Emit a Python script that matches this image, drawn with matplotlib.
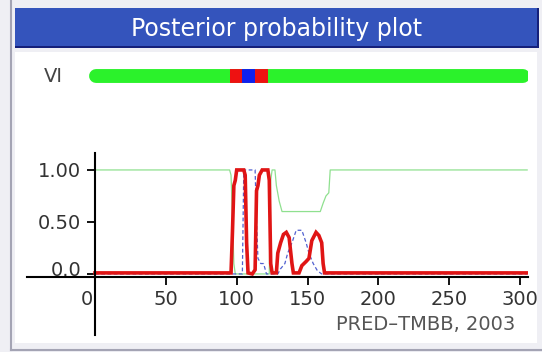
import numpy as np
import matplotlib.pyplot as plt
from matplotlib.patches import Rectangle
from matplotlib.lines import Line2D
import matplotlib.transforms as mtransforms

# posterior probabilities (position, probability)
red_x = [0, 96, 97, 98, 99, 100, 105, 106, 107, 108, 111, 113, 114, 115, 116, 118, 122, 123, 124, 125,
         128, 129, 131, 133, 135, 137, 139, 140, 144, 146, 149, 151, 153, 156, 158, 160, 161, 162, 305]
red_y = [0.01, 0.01, 0.4, 0.85, 0.9, 1.0, 1.0, 0.95, 0.3, 0.01, 0.0, 0.04, 0.8, 0.85, 0.95, 1.0, 1.0, 0.9, 0.1, 0.01,
         0.01, 0.2, 0.3, 0.38, 0.4, 0.35, 0.1, 0.01, 0.01, 0.08, 0.12, 0.15, 0.32, 0.4, 0.37, 0.3, 0.1, 0.01, 0.01]

green_x = [0, 95, 96, 97, 98, 99, 123, 124, 125, 127, 128, 130, 132, 159, 161, 163, 165, 166, 305]
green_y = [1.0, 1.0, 0.95, 0.55, 0.1, 0.0, 0.0, 0.9, 1.0, 1.0, 0.85, 0.7, 0.6, 0.6, 0.68, 0.75, 0.78, 1.0, 1.0]

blue_x = [0, 104, 105, 113, 114, 115, 117, 119, 121, 129, 131, 134, 136, 139, 142, 146, 149, 151, 154, 157, 160, 305]
blue_y = [0.0, 0.0, 1.0, 1.0, 0.5, 0.15, 0.1, 0.1, 0.0, 0.0, 0.05, 0.1, 0.2, 0.3, 0.42, 0.42, 0.3, 0.2, 0.1, 0.03, 0.0, 0.0]

# predicted topology segments (start, end, colour)
topo_start = [1, 95, 104, 113, 122]
topo_end = [95, 104, 113, 122, 302]
topo_color = ['#2bf22b', '#ee1111', '#1020ee', '#ee1111', '#2bf22b']

x_ticks = [0, 50, 100, 150, 200, 250, 300]
y_ticks = [0.0, 0.5, 1.0]
y_labels = ['0.0', '0.50', '1.00']

W, H = 542, 352


def fx(px):
    return px / W


def fy(py):
    return 1 - py / H


fig = plt.figure(figsize=(5.42, 3.52), dpi=100)
fig.patch.set_facecolor('#efeff4')

# frame decorations, kept behind the axes
fig.add_artist(Line2D([fx(11), fx(11)], [fy(0), fy(350)], color='#a4a4b4', lw=1.5, zorder=-1))
fig.add_artist(Line2D([fx(11), fx(542)], [fy(350), fy(350)], color='#a4a4b4', lw=1.5, zorder=-1))
fig.add_artist(Rectangle((fx(15), fy(48)), fx(524), 40 / H, color='#15207a', lw=0, zorder=-1))
fig.add_artist(Rectangle((fx(15), fy(46)), fx(522), 38 / H, color='#3454bc', lw=0, zorder=-1))
fig.add_artist(Rectangle((fx(15), fy(343)), fx(522), 291 / H, color='white', lw=0, zorder=-1))
fig.text(fx(277), fy(29), 'Posterior probability plot', color='white', fontsize=17,
         ha='center', va='center')

# topology bar
x0, x1 = -48, 305.6
tax = fig.add_axes([fx(27), fy(92), fx(501), 32 / H])
tax.set_xlim(x0, x1)
tax.set_ylim(-1, 1)
tax.axis('off')
tax.plot([topo_start[0], topo_end[-1]], [0, 0], color=topo_color[0], lw=10, solid_capstyle='round')
for s, e, c in zip(topo_start[1:-1], topo_end[1:-1], topo_color[1:-1]):
    tax.plot([s, e], [0, 0], color=c, lw=10, solid_capstyle='butt')
fig.text(fx(53), fy(76), 'VI', color='#444444', fontsize=14, ha='center', va='center')

# probability plot
ax = fig.add_axes([fx(27), fy(335), fx(501), 182 / H])
ax.set_facecolor('none')
ax.set_xlim(x0, x1)
ax.set_ylim(-0.587, 1.163)
ax.plot(green_x, green_y, color='#8fe08f', lw=0.9)
ax.plot(blue_x, blue_y, color='#5060d0', lw=0.9, ls=(0, (3, 2)))
ax.plot(red_x, red_y, color='#e01515', lw=2.6, solid_joinstyle='miter')

for side in ['top', 'right']:
    ax.spines[side].set_visible(False)
ax.spines['left'].set_position(('data', 0))
ax.spines['bottom'].set_position(('data', -0.025))
ax.spines['left'].set_linewidth(1.5)
ax.spines['bottom'].set_linewidth(1.5)
ax.set_xticks(x_ticks)
ax.set_yticks(y_ticks)
ax.set_yticklabels(y_labels)
ax.tick_params(axis='both', direction='out', length=6, width=1.3, labelsize=14,
               labelcolor='#333333', pad=4)
ylab0 = ax.get_yticklabels()[0]
ylab0.set_transform(ylab0.get_transform() +
                    mtransforms.ScaledTranslation(0, 5 / 100, fig.dpi_scale_trans))
xlab0 = ax.get_xticklabels()[0]
xlab0.set_transform(xlab0.get_transform() +
                    mtransforms.ScaledTranslation(-8 / 100, 0, fig.dpi_scale_trans))

fig.text(fx(515), fy(325), 'PRED\u2013TMBB, 2003', color='#555555', fontsize=14,
         ha='right', va='center')

fig.savefig('out.png', dpi=100, facecolor=fig.get_facecolor())
